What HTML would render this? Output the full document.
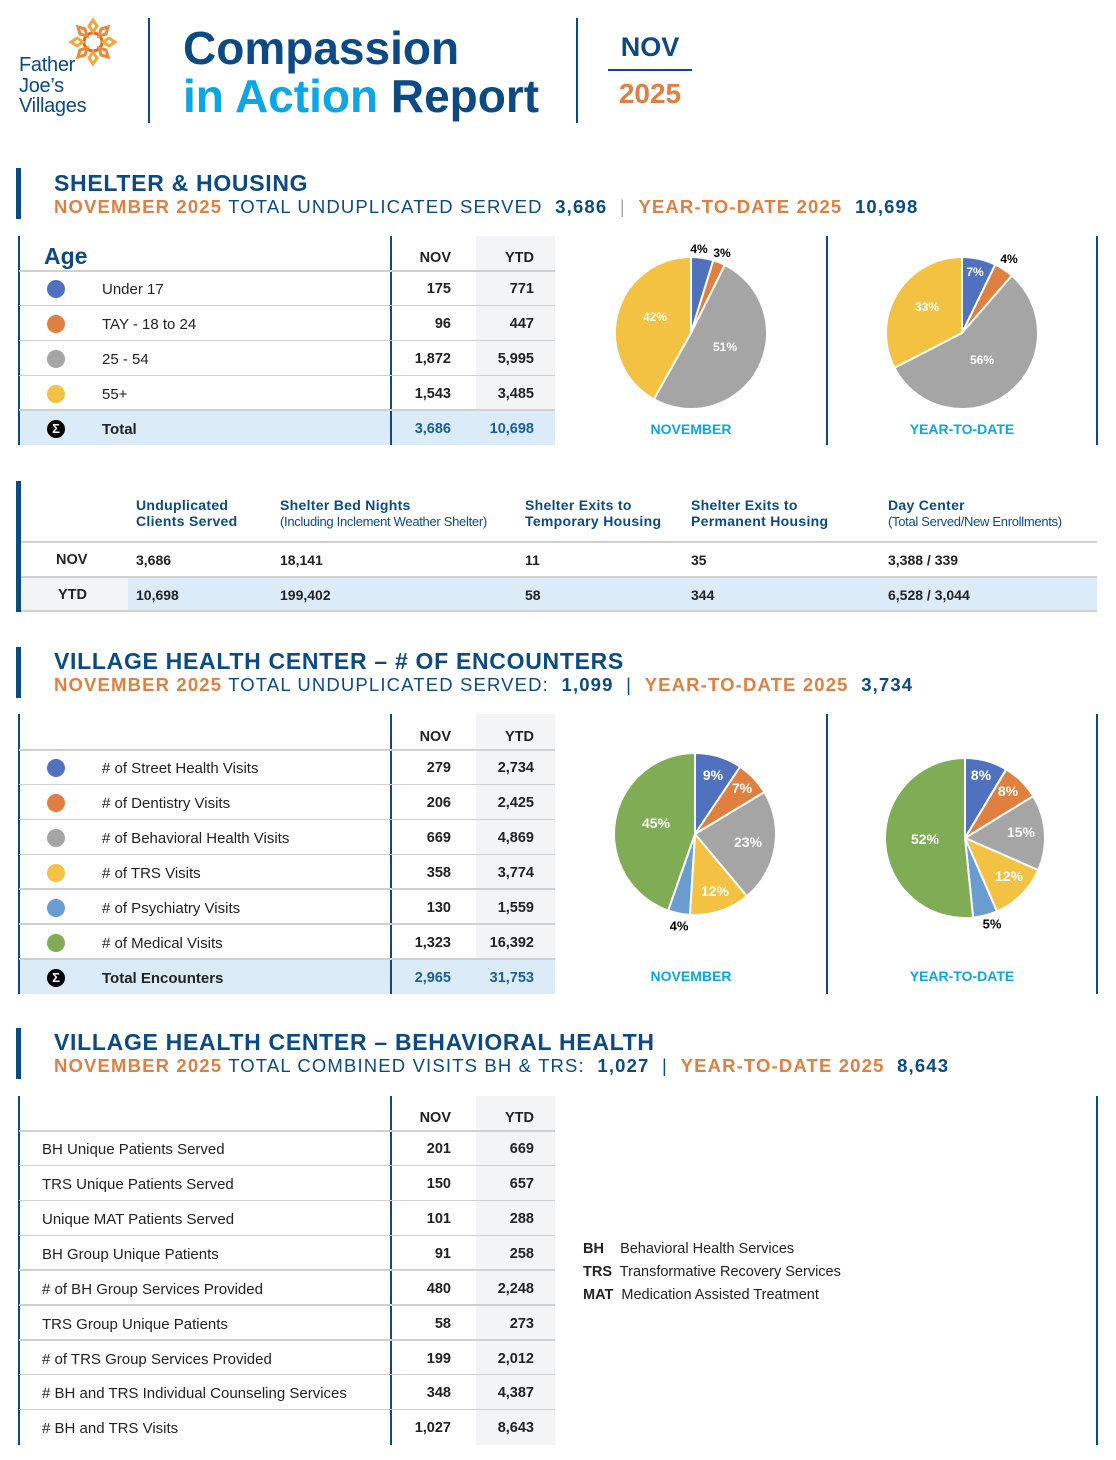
<!DOCTYPE html>
<html><head><meta charset="utf-8">
<style>
*{margin:0;padding:0;box-sizing:border-box}
body{width:1116px;height:1460px;position:relative;background:#fff;font-family:"Liberation Sans",Arial,sans-serif;overflow:hidden;color:#222}
.a{position:absolute;white-space:nowrap}
.navy{color:#0b4a84}.cyan{color:#0aa6e6}.or{color:#e07f3f}
.bar{position:absolute;left:16px;width:5px;background:#0b4a84}
.vl{position:absolute;width:1.5px;background:#0b4a84}
.hl{position:absolute;height:1.5px;background:#d0d0d0}
.t{font-weight:bold;font-size:23px;letter-spacing:0.7px;color:#0b4a84}
.s{font-size:18.5px;letter-spacing:1.15px;color:#0b4a84}
.n{font-weight:bold;font-size:14.5px;text-align:right;width:80px}
.l{font-size:15px}
.dot{position:absolute;width:18px;height:18px;border-radius:50%}
.h{font-weight:bold;font-size:14px;color:#0b4a84;line-height:16px;letter-spacing:0.3px}
.h i{font-style:normal;font-weight:normal;font-size:13px;letter-spacing:-0.3px}
.pl{font-weight:bold;font-size:14px;color:#0aa6e6;text-align:center;width:200px}
</style></head><body>

<svg class="a" style="left:64px;top:16px" width="58" height="52" viewBox="0 0 58 52">
<g fill="none" stroke-width="3">
<circle cx="29" cy="26" r="9" stroke="#e0672f"/>
<path d="M29 4 l4 6 -4 6 -4 -6z M29 36 l4 6 -4 6 -4 -6z M7 26 l6 -4 6 4 -6 4z M39 26 l6 -4 6 4 -6 4z" stroke="#f2a93b"/>
<path d="M14 11 l7 2 2 7 -7 -2z M44 11 l-7 2 -2 7 7 -2z M14 41 l7 -2 2 -7 -7 2z M44 41 l-7 -2 -2 -7 7 2z" stroke="#e88a3a"/>
</g></svg>
<div class="a navy" style="left:19px;top:55px;font-size:20px;line-height:20.5px;letter-spacing:-0.3px">Father<br>Joe’s<br>Villages</div>
<div class="vl" style="left:148px;top:18px;height:105px"></div>
<div class="a navy" style="left:183px;top:21px;font-size:46px;font-weight:bold;line-height:54px">Compassion</div>
<div class="a" style="left:183px;top:69px;font-size:46px;font-weight:bold;line-height:54px"><span class="cyan">in Action</span> <span class="navy">Report</span></div>
<div class="vl" style="left:576px;top:18px;height:105px"></div>
<div class="a navy" style="left:608px;top:32px;width:84px;text-align:center;font-size:27px;font-weight:bold">NOV</div>
<div class="a" style="left:608px;top:69px;width:84px;height:1.5px;background:#0b4a84"></div>
<div class="a or" style="left:608px;top:78px;width:84px;text-align:center;font-size:28px;font-weight:bold">2025</div>

<div class="bar" style="top:168px;height:51px"></div>
<div class="a t" style="left:54px;top:170px">SHELTER &amp; HOUSING</div>
<div class="a s" style="left:54px;top:196px"><b class="or">NOVEMBER 2025</b> TOTAL UNDUPLICATED SERVED&nbsp; <b>3,686</b> &nbsp;<span style="color:#aaa">|</span>&nbsp; <b class="or">YEAR-TO-DATE 2025</b>&nbsp; <b>10,698</b></div>

<div class="bar" style="top:647px;height:51px"></div>
<div class="a t" style="left:54px;top:648px">VILLAGE HEALTH CENTER – # OF ENCOUNTERS</div>
<div class="a s" style="left:54px;top:674px"><b class="or">NOVEMBER 2025</b> TOTAL UNDUPLICATED SERVED:&nbsp; <b>1,099</b> &nbsp;|&nbsp; <b class="or">YEAR-TO-DATE 2025</b>&nbsp; <b>3,734</b></div>

<div class="bar" style="top:1028px;height:51px"></div>
<div class="a t" style="left:54px;top:1029px">VILLAGE HEALTH CENTER – BEHAVIORAL HEALTH</div>
<div class="a s" style="left:54px;top:1055px"><b class="or">NOVEMBER 2025</b> TOTAL COMBINED VISITS BH &amp; TRS:&nbsp; <b>1,027</b> &nbsp;|&nbsp; <b class="or">YEAR-TO-DATE 2025</b>&nbsp; <b>8,643</b></div>

<div class="a" style="left:21px;top:577px;width:107px;height:34px;background:#f3f4f6"></div>
<div class="a" style="left:128px;top:577px;width:969px;height:34px;background:#dcebf8"></div>
<div class="bar" style="top:481px;height:131px"></div>
<div class="hl" style="left:21px;top:541px;width:1076px"></div>
<div class="hl" style="left:21px;top:576px;width:1076px"></div>
<div class="hl" style="left:21px;top:610px;width:1076px"></div>
<div class="a h" style="left:136px;top:497px">Unduplicated<br>Clients Served</div>
<div class="a h" style="left:280px;top:497px">Shelter Bed Nights<br><i>(Including Inclement Weather Shelter)</i></div>
<div class="a h" style="left:525px;top:497px">Shelter Exits to<br>Temporary Housing</div>
<div class="a h" style="left:691px;top:497px">Shelter Exits to<br>Permanent Housing</div>
<div class="a h" style="left:888px;top:497px">Day Center<br><i>(Total Served/New Enrollments)</i></div>
<div class="a" style="left:56px;top:552px;font-size:14.5px;font-weight:bold">NOV</div>
<div class="a" style="left:58px;top:587px;font-size:14.5px;font-weight:bold">YTD</div>

<div id="g"></div>

<div class="a" style="left:583px;top:1238px;font-size:14.5px;line-height:23px"><b>BH</b>&nbsp;&nbsp;&nbsp; Behavioral Health Services<br><b>TRS</b>&nbsp; Transformative Recovery Services<br><b>MAT</b>&nbsp; Medication Assisted Treatment</div>

<svg id="pies" class="a" style="left:0;top:0" width="1116" height="1460"></svg>
<div class="a pl" style="left:591px;top:421px">NOVEMBER</div>
<div class="a pl" style="left:862px;top:421px">YEAR-TO-DATE</div>
<div class="a pl" style="left:591px;top:968px">NOVEMBER</div>
<div class="a pl" style="left:862px;top:968px">YEAR-TO-DATE</div>

<script>
var g=document.getElementById('g'),h='';
function add(s){h+=s;}
var C={b:'#4f71be',o:'#e07f3f',g:'#a5a5a5',y:'#f4c242',lb:'#6a9bd1',gr:'#7fac55'};
function table(top,hdr,rows,total,dots,labelX,withPie){
  var rh=rows.length?34.85:35;
  var n=rows.length+(total?1:0);
  var bot=top+hdr+n*rh;
  var grayBot=total?bot-rh:bot;
  add('<div class="a" style="left:476px;top:'+top+'px;width:79px;height:'+(grayBot-top)+'px;background:#f3f4f6"></div>');
  if(total) add('<div class="a" style="left:19px;top:'+(bot-rh)+'px;width:536px;height:'+rh+'px;background:#dcebf8"></div>');
  add('<div class="vl" style="left:18px;top:'+top+'px;height:'+(bot-top)+'px"></div>');
  add('<div class="vl" style="left:390px;top:'+top+'px;height:'+(bot-top)+'px"></div>');
  if(withPie){add('<div class="vl" style="left:826px;top:'+top+'px;height:'+(bot-top)+'px"></div>');}
  add('<div class="vl" style="left:1096px;top:'+top+'px;height:'+(bot-top)+'px"></div>');
  add('<div class="a" style="left:371px;top:'+(top+hdr-21)+'px;font-weight:bold;font-size:14.5px;width:80px;text-align:right">NOV</div>');
  add('<div class="a" style="left:454px;top:'+(top+hdr-21)+'px;font-weight:bold;font-size:14.5px;width:80px;text-align:right">YTD</div>');
  for(var i=0;i<n;i++){
    var y=top+hdr+i*rh;
    add('<div class="hl" style="left:19px;top:'+(y-1)+'px;width:536px"></div>');
    var r=i<rows.length?rows[i]:total, isT=i>=rows.length;
    var ty=y+rh/2-7;
    if(dots&&!isT) add('<div class="dot" style="left:47px;top:'+(y+rh/2-8)+'px;background:'+dots[i]+'"></div>');
    if(isT) add('<div class="dot" style="left:47px;top:'+(y+rh/2-8)+'px;background:#000;color:#fff;font-size:13px;font-weight:bold;text-align:center;line-height:18px">Σ</div>');
    add('<div class="a l" style="left:'+labelX+'px;top:'+ty+'px;'+(isT?'font-weight:bold':'')+'">'+r[0]+'</div>');
    var col=isT?'color:#1c5d99':'';
    add('<div class="a n" style="left:371px;top:'+ty+'px;'+col+'">'+r[1]+'</div>');
    add('<div class="a n" style="left:454px;top:'+ty+'px;'+col+'">'+r[2]+'</div>');
  }
}
table(236,35,[['Under 17','175','771'],['TAY - 18 to 24','96','447'],['25 - 54','1,872','5,995'],['55+','1,543','3,485']],['Total','3,686','10,698'],[C.b,C.o,C.g,C.y],102,true);
add('<div class="a navy" style="left:44px;top:243px;font-size:23px;font-weight:bold">Age</div>');
table(714,36,[['# of Street Health Visits','279','2,734'],['# of Dentistry Visits','206','2,425'],['# of Behavioral Health Visits','669','4,869'],['# of TRS Visits','358','3,774'],['# of Psychiatry Visits','130','1,559'],['# of Medical Visits','1,323','16,392']],['Total Encounters','2,965','31,753'],[C.b,C.o,C.g,C.y,C.lb,C.gr],102,true);
table(1096,35,[['BH Unique Patients Served','201','669'],['TRS Unique Patients Served','150','657'],['Unique MAT Patients Served','101','288'],['BH Group Unique Patients','91','258'],['# of BH Group Services Provided','480','2,248'],['TRS Group Unique Patients','58','273'],['# of TRS Group Services Provided','199','2,012'],['# BH and TRS Individual Counseling Services','348','4,387'],['# BH and TRS Visits','1,027','8,643']],null,null,42,false);
var cols=[136,280,525,691,888];
[['3,686','18,141','11','35','3,388 / 339'],['10,698','199,402','58','344','6,528 / 3,044']].forEach(function(r,j){
  r.forEach(function(v,i){add('<div class="a" style="left:'+cols[i]+'px;top:'+(552+j*35)+'px;font-weight:bold;font-size:14px">'+v+'</div>');});
});
g.innerHTML=h;

var s='';
function pie(cx,cy,r,vals,cols,labels){
  var tot=vals.reduce(function(a,b){return a+b},0),a0=0;
  vals.forEach(function(v,i){
    var a1=a0+v/tot*2*Math.PI;
    var x0=cx+r*Math.sin(a0),y0=cy-r*Math.cos(a0),x1=cx+r*Math.sin(a1),y1=cy-r*Math.cos(a1);
    s+='<path d="M'+cx+' '+cy+' L'+x0+' '+y0+' A'+r+' '+r+' 0 '+((a1-a0)>Math.PI?1:0)+' 1 '+x1+' '+y1+' Z" fill="'+cols[i]+'" stroke="#fff" stroke-width="2"/>';
    a0=a1;
  });
  labels.forEach(function(l){
    s+='<text x="'+l[1]+'" y="'+l[2]+'" text-anchor="middle" dominant-baseline="central" font-family="Liberation Sans,sans-serif" font-weight="bold" font-size="'+(l[4]||13)+'" fill="'+(l[3]||'#fff')+'">'+l[0]+'</text>';
  });
}
var c4=[C.b,C.o,C.g,C.y],c6=[C.b,C.o,C.g,C.y,C.lb,C.gr];
pie(691,333,76,[175,96,1872,1543],c4,[['4%',699,249,'#000',12],['3%',722,253,'#000',12],['42%',655,317,0,12],['51%',725,347,0,12]]);
pie(962,333,76,[771,447,5995,3485],c4,[['7%',975,272,0,12],['4%',1009,259,'#000',12],['33%',927,307,0,12],['56%',982,360,0,12]]);
pie(695,834,81,[279,206,669,358,130,1323],c6,[['9%',713,775,0,14],['7%',742,788,0,14],['23%',748,842,0,14],['12%',715,891,0,14],['4%',679,926,'#000',13],['45%',656,823,0,14]]);
pie(965,838,80,[2734,2425,4869,3774,1559,16392],c6,[['8%',981,775,0,14],['8%',1008,791,0,14],['15%',1021,832,0,14],['12%',1009,876,0,14],['5%',992,924,'#000',13],['52%',925,839,0,14]]);
document.getElementById('pies').innerHTML=s;
</script>
</body></html>
